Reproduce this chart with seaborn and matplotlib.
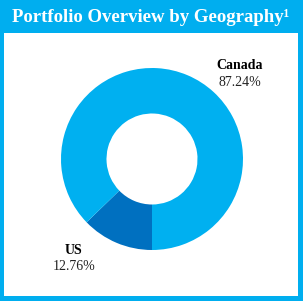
import matplotlib
matplotlib.use("Agg")
import matplotlib.pyplot as plt
import seaborn as sns

regions = ["US", "Canada"]
shares = [12.76, 87.24]
colors = ["#0070C0", "#00B0F0"]
title = "Portfolio Overview by Geography\u00b9"

sns.set_theme(style="white")
plt.rcParams["font.family"] = ["Liberation Serif", "DejaVu Serif"]

W, H = 303, 301
fig = plt.figure(figsize=(W / 100, H / 100), dpi=100)
fig.patch.set_facecolor("#00AEEF")

# white card inside the cyan frame
card = fig.add_axes([4 / W, 5 / H, 294 / W, 263 / H], zorder=0)
card.set_facecolor("white")
card.set_xticks([])
card.set_yticks([])
for s in card.spines.values():
    s.set_visible(False)

fig.text(151 / W, 1 - 17 / H, title, ha="center", va="center",
         color="white", fontsize=13.5, fontweight="bold")

cx, cy, r = 152, 159, 91
ax = fig.add_axes([(cx - r) / W, (H - cy - r) / H, 2 * r / W, 2 * r / H], zorder=1)
ax.pie(shares, colors=colors, startangle=270, counterclock=False,
       radius=1, wedgeprops=dict(width=0.5, edgecolor="none"))
ax.set_xlim(-1, 1)
ax.set_ylim(-1, 1)
ax.set_aspect("auto")
ax.axis("off")

label_pos = {"Canada": (0.967, 1.03), "US": (-0.857, -1.0)}
for name, val in zip(regions, shares):
    x, y = label_pos[name]
    ax.text(x, y, name, ha="center", va="center", fontsize=10,
            fontweight="bold", color="black")
    ax.text(x, y - 0.185, f"{val:.2f}%", ha="center", va="center",
            fontsize=10, color="#222222")

fig.savefig("out.png", dpi=100, facecolor=fig.get_facecolor())
